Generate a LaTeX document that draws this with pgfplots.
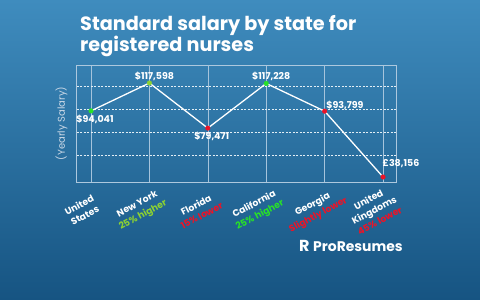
\documentclass[border=0pt]{standalone}
\usepackage{fontspec}
\setmainfont{Poppins}
\usepackage{pgfplots}
\pgfplotsset{compat=1.18}

\definecolor{bgtop}{RGB}{63,140,190}
\definecolor{bgbot}{RGB}{22,84,130}
\definecolor{upgreen}{RGB}{40,225,40}
\definecolor{uplime}{RGB}{140,210,50}
\definecolor{downred}{RGB}{235,20,40}
\definecolor{gridw}{RGB}{200,215,230}

\pgfplotsset{
  salarylabel/.style={
    draw=none, mark=none, point meta=y,
    /pgf/number format/.cd, fixed, precision=0, 1000 sep={,}, assume math mode=true,
    /pgfplots/.cd,
    every node near coord/.append style={
      font=\fontsize{9.5}{11}\selectfont\bfseries, text=white, inner sep=1.5pt},
  },
}

\begin{document}
\begin{tikzpicture}
\path[use as bounding box] (0bp,0bp) rectangle (480bp,300bp);
\shade[top color=bgtop, bottom color=bgbot] (0bp,0bp) rectangle (480bp,300bp);

% title
\node[anchor=north west, align=left, text=white, inner sep=0,
      font=\fontsize{19.3}{19}\selectfont\bfseries] at (80bp,285bp)
  {Standard salary by state for\\registered nurses};

\begin{axis}[
  name=salary,
  at={(76.7bp,118bp)}, anchor=south west,
  scale only axis, width=320bp, height=117bp,
  xmin=-0.245, xmax=5.234, ymin=33930, ymax=132830,
  scaled y ticks=false,
  xtick={0,...,5},
  xticklabels={
    {United\\States},
    {New York\\\textcolor{uplime}{25\% higher}},
    {Florida\\\textcolor{downred}{15\% lower}},
    {California\\\textcolor{upgreen}{25\% higher}},
    {Georgia\\\textcolor{downred}{Slightly lower}},
    {United\\Kingdoms\\\textcolor{downred}{45\% lower}}},
  xticklabel style={xshift=-9bp, yshift=-28bp, rotate=28, anchor=center, align=center,
    font=\fontsize{9.3}{12}\selectfont\bfseries, text=white},
  extra x ticks={1,2,4}, extra x tick labels={},
  extra x tick style={grid style={white!92!bgtop, line width=1.4}},
  ytick={56753,76195,95637,115079}, yticklabels={},
  major tick length=0,
  xmajorgrids, ymajorgrids,
  x grid style={gridw!75!bgtop, line width=0.6},
  y grid style={white!85!bgtop, line width=0.5, dash pattern=on 2pt off 1.5pt},
  axis line style={gridw!80!bgtop, line width=0.6},
  clip=false,
]
% salary line
\addplot[white, line width=1.3, mark=none]
  coordinates {(0,94041) (1,117598) (2,79471) (3,117228) (4,93799) (5,38156)};

% markers: green above the US level, red below it
\addplot[only marks, mark=*, mark size=2.3, upgreen, draw=none]
  coordinates {(0,94041) (3,117228)};
\addplot[only marks, mark=*, mark size=2.3, uplime, draw=none]
  coordinates {(1,117598)};
\addplot[only marks, mark=*, mark size=2.3, downred, draw=none]
  coordinates {(2,79471) (4,93799) (5,38156)};

% value labels
\addplot[salarylabel, nodes near coords={\$\pgfmathprintnumber{\pgfplotspointmeta}},
  nodes near coords style={anchor=south, yshift=1bp, xshift=5bp}]
  coordinates {(1,117598) (3,117228)};
\addplot[salarylabel, nodes near coords={\$\pgfmathprintnumber{\pgfplotspointmeta}},
  nodes near coords style={anchor=north, yshift=-2bp, xshift=4bp}]
  coordinates {(0,94041) (2,79471)};
\addplot[salarylabel, nodes near coords={\$\pgfmathprintnumber{\pgfplotspointmeta}},
  nodes near coords style={anchor=south west, xshift=0bp, yshift=0bp}]
  coordinates {(4,93799)};
\addplot[salarylabel, nodes near coords={£\pgfmathprintnumber{\pgfplotspointmeta}},
  nodes near coords style={anchor=south west, xshift=-2bp, yshift=8bp}]
  coordinates {(5,38156)};
\end{axis}

% axis title, set just left of the frame
\node[rotate=90, anchor=south, text=gridw, inner sep=0,
      font=\fontsize{10}{12}\selectfont] at ([xshift=-9bp]salary.west) {(Yearly Salary)};

% logo
\node[anchor=base west, text=white, inner sep=0,
      font=\fontsize{16}{16}\selectfont\bfseries] at (299bp,48bp) {R};
\node[anchor=base west, text=white, inner sep=0,
      font=\fontsize{14}{15}\selectfont\bfseries] at (313bp,48bp) {ProResumes};
\end{tikzpicture}
\end{document}
